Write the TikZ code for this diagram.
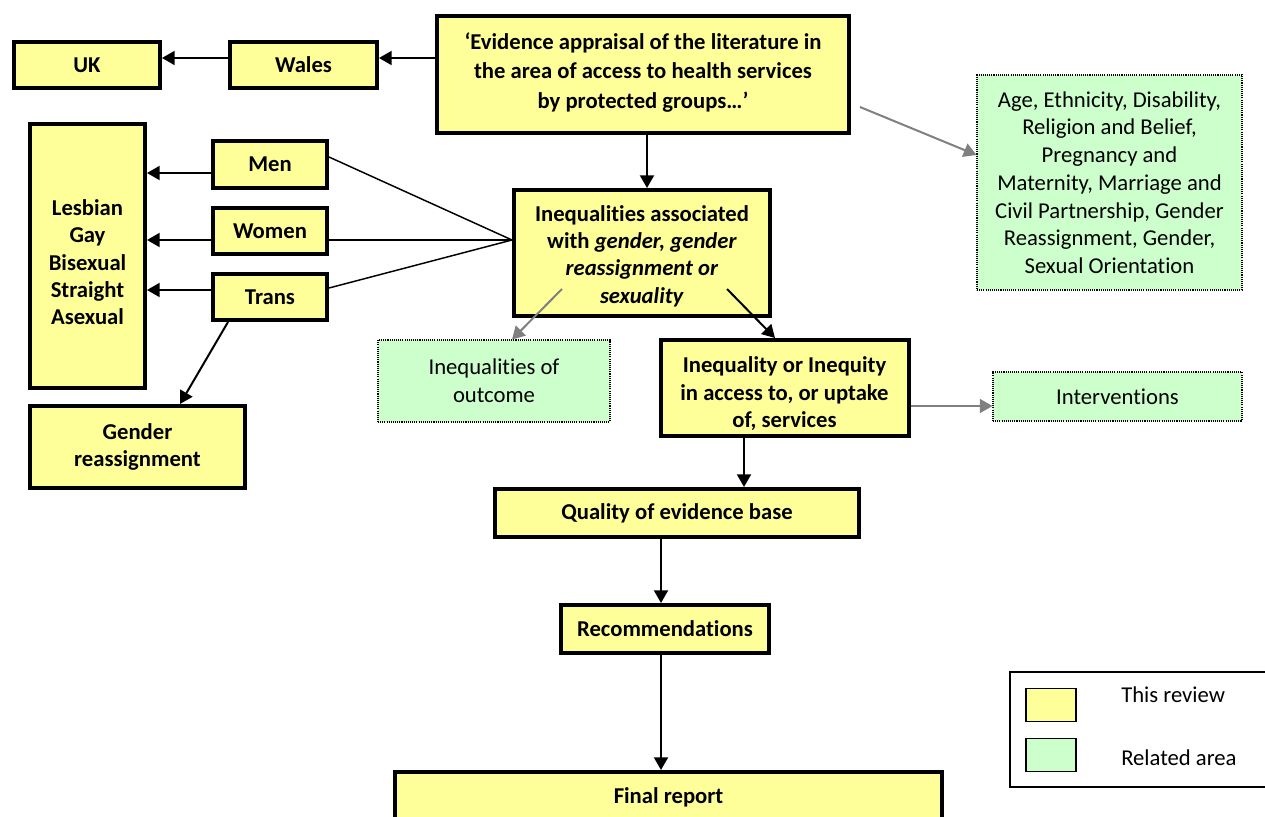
\documentclass[tikz,border=0pt]{standalone}
\usepackage{fontspec}
\setmainfont{Carlito}[Ligatures=NoCommon]
\usetikzlibrary{arrows.meta,calc}
\definecolor{yfill}{RGB}{255,255,153}
\definecolor{gfill}{RGB}{204,255,204}
\definecolor{garrow}{RGB}{128,128,128}
\begin{document}
\begin{tikzpicture}[x=0.75pt,y=-0.75pt,
  ybox/.style={draw=black,line width=3pt,fill=yfill,font=\fontsize{17}{20.5}\selectfont\bfseries,align=center,inner sep=0pt},
  gbox/.style={draw=black,line width=0.8pt,dash pattern=on 0.8pt off 0.8pt,fill=gfill,font=\fontsize{17}{20.8}\selectfont,align=center,inner sep=0pt},
  conn/.style={line width=1.5pt,-{Triangle[length=9.5pt,width=10.5pt]}},
  gconn/.style={draw=garrow,line width=1.5pt,-{Triangle[length=9.5pt,width=10.5pt]}},
  thinline/.style={line width=1.1pt},
  legtext/.style={font=\fontsize{17}{20}\selectfont,anchor=west,inner sep=0pt},
]
\useasboundingbox (0,0) rectangle (1265,817);
\clip (0,0) rectangle (1265,817);

% nodes
\node[ybox,minimum width=109.5pt,minimum height=34.5pt] (uk) at (87,65) {UK};
\node[ybox,minimum width=110.25pt,minimum height=34.5pt] (wales) at (303.5,65) {Wales};
\node[ybox,minimum width=309pt,minimum height=87.75pt,font=\fontsize{17}{22}\selectfont\bfseries] (main) at (643,74.5)
  {‘Evidence appraisal of the literature in\\the area of access to health services\\by protected groups…’\\[-16pt]};
\node[gbox,minimum width=198.75pt,minimum height=161.25pt] (g1) at (1109.5,182.5)
  {Age, Ethnicity, Disability,\\Religion and Belief,\\Pregnancy and\\Maternity, Marriage and\\Civil Partnership, Gender\\Reassignment, Gender,\\Sexual Orientation};
\node[ybox,minimum width=192pt,minimum height=94.5pt] (ineq) at (642,253)
  {\\[-4pt]Inequalities associated\\with \textit{gender, gender}\\\textit{reassignment or}\\\textit{sexuality}};
\node[ybox,minimum width=85.5pt,minimum height=35.25pt] (men) at (270,164.5) {Men};
\node[ybox,minimum width=85.5pt,minimum height=34.5pt] (women) at (270,231) {Women};
\node[ybox,minimum width=85.5pt,minimum height=34.5pt] (trans) at (270,297) {Trans};
\node[ybox,minimum width=86.25pt,minimum height=198pt] (lgb) at (87.5,256)
  {\\[1pt]Lesbian\\Gay\\Bisexual\\Straight\\Asexual};
\node[ybox,minimum width=161.25pt,minimum height=61.5pt] (gr) at (137.5,447) {Gender\\reassignment};
\node[gbox,minimum width=174pt,minimum height=61.5pt] (outcome) at (494,381) {Inequalities of\\outcome};
\node[ybox,minimum width=186pt,minimum height=72pt] (ineqacc) at (784.5,388)
  {\\[0pt]Inequality or Inequity\\in access to, or uptake\\of, services};
\node[gbox,minimum width=186.75pt,minimum height=36.75pt] (interv) at (1117.5,396.5) {Interventions};
\node[ybox,minimum width=273pt,minimum height=36pt] (quality) at (677,513) {Quality of evidence base};
\node[ybox,minimum width=156pt,minimum height=36pt] (rec) at (665,629) {Recommendations};
\node[ybox,minimum width=410pt,minimum height=37.5pt] (final) at (668.5,797) {Final report};

% legend
\node[draw=black,line width=1.1pt,minimum width=198.75pt,minimum height=86.25pt,inner sep=0pt] (legend) at (1142.5,729.5) {};
\node[draw=black,line width=1.1pt,fill=yfill,minimum width=37.5pt,minimum height=24.75pt,inner sep=0pt] (swy) at (1051,705) {};
\node[draw=black,line width=1.1pt,fill=gfill,minimum width=37.5pt,minimum height=24.75pt,inner sep=0pt] (swg) at (1051,755) {};
\node[legtext] (ly) at (1121,695) {This review};
\node[legtext] (lg) at (1121,758) {Related area};

% helper coordinates
\coordinate (ya) at (0,58);
\coordinate (yg) at (0,155);
\coordinate (xa) at (647,0);
\coordinate (meet) at (ineq.west |- 0,240);
\coordinate (ym) at (0,157);
\coordinate (yw) at (0,240);
\coordinate (yt) at (0,288);
\coordinate (am) at (0,173);
\coordinate (at) at (0,290);
\coordinate (xt1) at (228,0);
\coordinate (xt2) at (180,0);
\coordinate (xo) at (512,0);
\coordinate (xi) at (775,0);
\coordinate (yi) at (0,406);
\coordinate (xq) at (744,0);
\coordinate (xr) at (661,0);

% connectors
\draw[conn] (main.west |- ya) -- (wales.east |- ya);
\draw[conn] (wales.west |- ya) -- (uk.east |- ya);
\draw[gconn] ($(main.east)+(9,32.5)$) -- (g1.west |- yg);
\draw[conn] (main.south -| xa) -- (ineq.north -| xa);
\draw[thinline] (men.east |- ym) -- (meet);
\draw[thinline] (women.east |- yw) -- (meet);
\draw[thinline] (trans.east |- yt) -- (meet);
\draw[conn] (men.west |- am) -- (lgb.east |- am);
\draw[conn] (women.west |- yw) -- (lgb.east |- yw);
\draw[conn] (trans.west |- at) -- (lgb.east |- at);
\draw[conn] (trans.south -| xt1) -- (gr.north -| xt2);
\draw[gconn] ($(ineq.south)+(-80,-29)$) -- (outcome.north -| xo);
\draw[conn] ($(ineq.south)+(85,-29)$) -- (ineqacc.north -| xi);
\draw[gconn] (ineqacc.east |- yi) -- (interv.west |- yi);
\draw[conn] (ineqacc.south -| xq) -- (quality.north -| xq);
\draw[conn] (quality.south -| xr) -- (rec.north -| xr);
\draw[conn] (rec.south -| xr) -- (final.north -| xr);
\end{tikzpicture}
\end{document}
